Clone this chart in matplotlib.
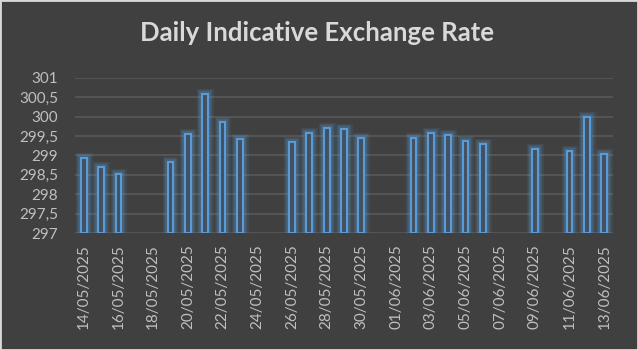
import numpy as np
import pandas as pd
import matplotlib
matplotlib.use("Agg")
import matplotlib.pyplot as plt
import matplotlib.dates as mdates
from matplotlib.ticker import FuncFormatter

# Data (business days only)
dates = ["14/05/2025", "15/05/2025", "16/05/2025",
         "19/05/2025", "20/05/2025", "21/05/2025", "22/05/2025", "23/05/2025",
         "26/05/2025", "27/05/2025", "28/05/2025", "29/05/2025", "30/05/2025",
         "02/06/2025", "03/06/2025", "04/06/2025", "05/06/2025", "06/06/2025",
         "09/06/2025", "11/06/2025", "12/06/2025", "13/06/2025"]
rates = [298.93, 298.69, 298.51,
         298.82, 299.54, 300.57, 299.85, 299.41,
         299.34, 299.57, 299.70, 299.67, 299.44,
         299.44, 299.57, 299.52, 299.36, 299.29,
         299.16, 299.11, 299.98, 299.03]

x = pd.to_datetime(dates, dayfirst=True)
y_base = 297.0

bg = "#404040"
blue = "#5B9BD5"
txt = "#BFBFBF"

plt.rcParams['font.family'] = ['Lato', 'DejaVu Sans']

fig = plt.figure(figsize=(6.38, 3.5), dpi=100, facecolor=bg)
ax = fig.add_axes([0.1176, 0.334, 0.8432, 0.444])
ax.set_facecolor(bg)

heights = np.array(rates) - y_base
w = 0.33

# soft glow around the bars
for lw, a in [(8, 0.10), (6, 0.14), (4, 0.22)]:
    ax.bar(x, heights, width=w, bottom=y_base, facecolor="none",
           edgecolor=blue, linewidth=lw, alpha=a, zorder=2)
ax.bar(x, heights, width=w, bottom=y_base, facecolor="#44505f",
       edgecolor=blue, linewidth=1.5, zorder=3)

ax.set_ylim(297, 301)
ax.set_yticks(np.arange(297, 301.01, 0.5))
ax.yaxis.set_major_formatter(FuncFormatter(lambda v, p: f"{v:g}".replace(".", ",")))
ax.set_xlim(pd.Timestamp("2025-05-13 12:00"), pd.Timestamp("2025-06-13 12:00"))
ticks = pd.date_range("2025-05-14", "2025-06-13", freq="2D")
ax.set_xticks(ticks)
ax.xaxis.set_major_formatter(mdates.DateFormatter("%d/%m/%Y"))

ax.grid(axis="y", color="#595959", linewidth=1.2, zorder=0)
ax.set_axisbelow(True)
for s in ax.spines.values():
    s.set_visible(False)
ax.tick_params(axis="both", length=0, colors=txt, labelsize=11)
ax.tick_params(axis="x", pad=8)
plt.setp(ax.get_xticklabels(), rotation=90)
ax.tick_params(axis="y", pad=12)

fig.suptitle("Daily Indicative Exchange Rate", x=0.497, y=0.94, color="#D9D9D9",
             fontsize=18.5, fontweight="bold")

# thin light frame around the chart
fig.patches.append(plt.Rectangle((0, 0), 1, 1, transform=fig.transFigure,
                                 fill=False, edgecolor="#D9D9D9", linewidth=2))

fig.savefig("out.png", dpi=100, facecolor=bg)
